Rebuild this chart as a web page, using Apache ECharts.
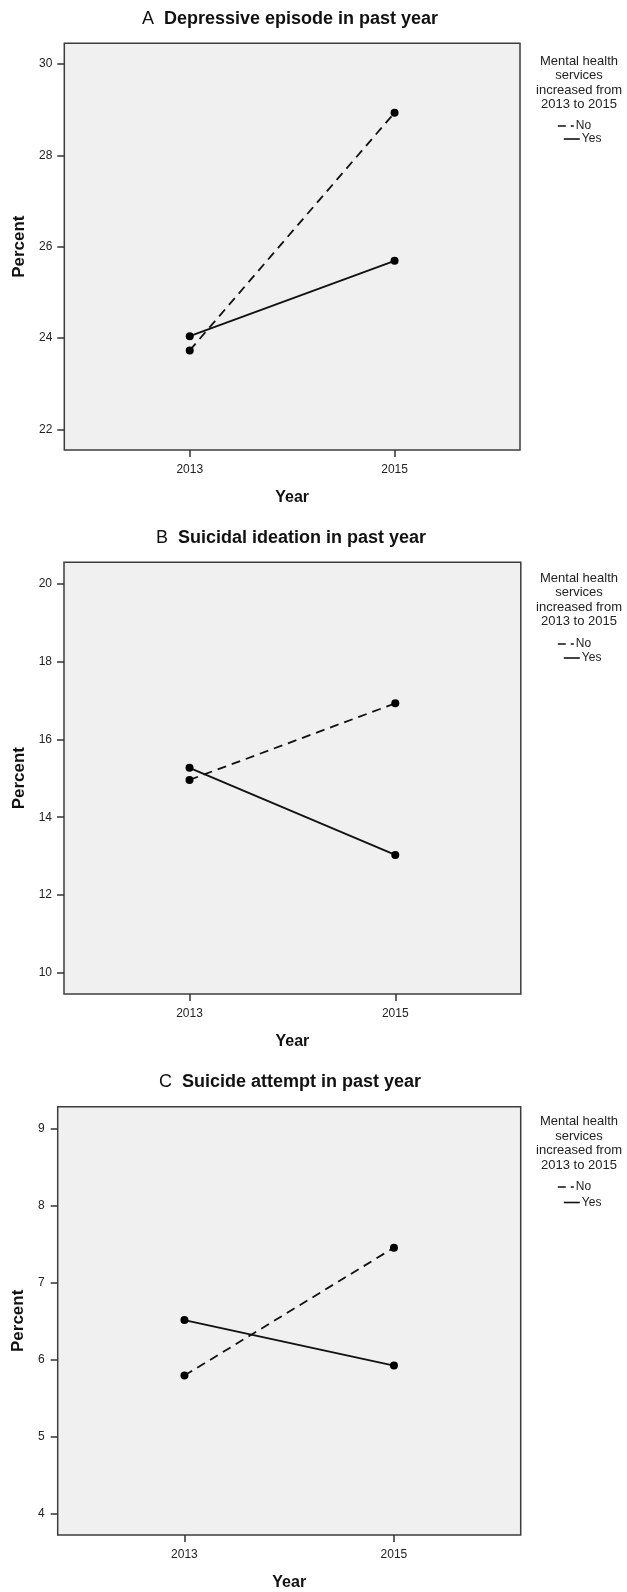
<!DOCTYPE html>
<html>
<head>
<meta charset="utf-8">
<script src="https://cdn.jsdelivr.net/npm/echarts@6/dist/echarts.min.js"></script>
<style>
html,body{margin:0;padding:0;background:#fff;}
#chart{width:627px;height:1592px;}
</style>
</head>
<body>
<div id="chart"></div>
<script>
// ---- data ----
const years = [2013, 2015];
const xTickLabels = ['2013', '2015'];
const panelLetters = ['A', 'B', 'C'];
const panelTitles = ['Depressive episode in past year', 'Suicidal ideation in past year', 'Suicide attempt in past year'];
const noA = [23.73, 28.93];
const yesA = [24.04, 25.69];
const noB = [14.96, 16.93];
const yesB = [15.27, 13.03];
const noC = [5.79, 7.45];
const yesC = [6.51, 5.92];
const yTicksA = [22, 24, 26, 28, 30];
const yTicksB = [10, 12, 14, 16, 18, 20];
const yTicksC = [4, 5, 6, 7, 8, 9];
const legendTitle = 'Mental health\nservices\nincreased from\n2013 to 2015';
const groupNames = ['No', 'Yes'];

// ---- layout ----
const FONT = '"Liberation Sans", Arial, Helvetica, sans-serif';
const panels = [
  {grid:{left:64.3, top:43.3, width:455.7, height:406.7}, x:[2011.775, 2016.225], y:[21.55, 30.45], ticks:yTicksA, no:noA, yes:yesA,
   titleTop:10, legTop:54, noTop:120, yesTop:133, nameGap:35, labMargin:12},
  {grid:{left:64, top:562.3, width:456.8, height:431.7}, x:[2011.78, 2016.22], y:[9.45, 20.56], ticks:yTicksB, no:noB, yes:yesB,
   titleTop:529, legTop:571, noTop:638, yesTop:652, nameGap:35, labMargin:12},
  {grid:{left:57.7, top:1106.7, width:463, height:431.6}, x:[2011.79, 2016.21], y:[3.72, 9.28], ticks:yTicksC, no:noC, yes:yesC,
   titleTop:1073, legTop:1114.5, noTop:1181, yesTop:1196.5, nameGap:29, labMargin:13}
];
const titleCenters = [290, 291, 290];

const option = {
  animation: false,
  backgroundColor: '#ffffff',
  textStyle: {fontFamily: FONT},
  title: [], legend: [], grid: [], xAxis: [], yAxis: [], series: []
};

panels.forEach((p, i) => {
  option.grid.push(Object.assign({show: true, backgroundColor: '#f0f0f0', borderColor: '#3c3c3c', borderWidth: 1.5, containLabel: false}, p.grid));
  option.title.push({
    text: '{a|' + panelLetters[i] + '}  {b|' + panelTitles[i] + '}',
    left: titleCenters[i], top: p.titleTop, textAlign: 'center', padding: 0,
    textStyle: {fontFamily: FONT, color: '#111', rich: {
      a: {fontFamily: FONT, fontSize: 18, fontWeight: 'normal', color: '#111'},
      b: {fontFamily: FONT, fontSize: 18, fontWeight: 'bold', color: '#111'}
    }}
  });
  option.title.push({
    text: legendTitle, left: 579, top: p.legTop, textAlign: 'center', padding: 0,
    textStyle: {fontFamily: FONT, fontSize: 13, fontWeight: 'normal', lineHeight: 14.5, color: '#222', align: 'center'}
  });
  option.legend.push({
    data: [groupNames[0]], left: 557, top: p.noTop, itemWidth: 16, itemHeight: 12, padding: 0, itemGap: 0,
    selectedMode: false,
    itemStyle: {opacity: 0},
    lineStyle: {type: [8, 5], width: 1.6, color: '#111'},
    textStyle: {fontFamily: FONT, fontSize: 12, color: '#222', padding: [0, 0, 0, -3]}
  });
  option.legend.push({
    data: [groupNames[1]], left: 563, top: p.yesTop, itemWidth: 16, itemHeight: 12, padding: 0, itemGap: 0,
    selectedMode: false,
    itemStyle: {opacity: 0},
    lineStyle: {type: 'solid', width: 1.6, color: '#111'},
    textStyle: {fontFamily: FONT, fontSize: 12, color: '#222', padding: [0, 0, 0, -3]}
  });
  option.xAxis.push({
    type: 'value', gridIndex: i, min: p.x[0], max: p.x[1],
    name: 'Year', nameLocation: 'middle', nameGap: 40,
    nameTextStyle: {fontFamily: FONT, fontSize: 16, fontWeight: 'bold', color: '#111'},
    axisLine: {show: false},
    splitLine: {show: false},
    axisTick: {show: true, length: 7, customValues: years, lineStyle: {color: '#333', width: 1.5}},
    axisLabel: {customValues: years, margin: 14, fontFamily: FONT, fontSize: 12, color: '#222',
      formatter: v => xTickLabels[years.indexOf(Math.round(v))] || ''}
  });
  option.yAxis.push({
    type: 'value', gridIndex: i, min: p.y[0], max: p.y[1],
    name: 'Percent', nameLocation: 'middle', nameGap: p.nameGap, nameRotate: 90,
    nameTextStyle: {fontFamily: FONT, fontSize: 17, fontWeight: 'bold', color: '#111'},
    axisLine: {show: false},
    splitLine: {show: false},
    axisTick: {show: true, length: 7, customValues: p.ticks, lineStyle: {color: '#333', width: 1.5}},
    axisLabel: {customValues: p.ticks, margin: p.labMargin, fontFamily: FONT, fontSize: 12, color: '#222',
      formatter: v => String(Math.round(v))}
  });
  option.series.push({
    name: groupNames[0], type: 'line', xAxisIndex: i, yAxisIndex: i,
    data: years.map((yr, k) => [yr, p.no[k]]),
    symbol: 'circle', symbolSize: 8,
    lineStyle: {color: '#111', width: 1.8, type: [9, 6]},
    itemStyle: {color: '#000'}
  });
  option.series.push({
    name: groupNames[1], type: 'line', xAxisIndex: i, yAxisIndex: i,
    data: years.map((yr, k) => [yr, p.yes[k]]),
    symbol: 'circle', symbolSize: 8,
    lineStyle: {color: '#111', width: 1.8, type: 'solid'},
    itemStyle: {color: '#000'}
  });
});

const chart = echarts.init(document.getElementById('chart'), null, {renderer: 'canvas'});
chart.setOption(option);
</script>
</body>
</html>
